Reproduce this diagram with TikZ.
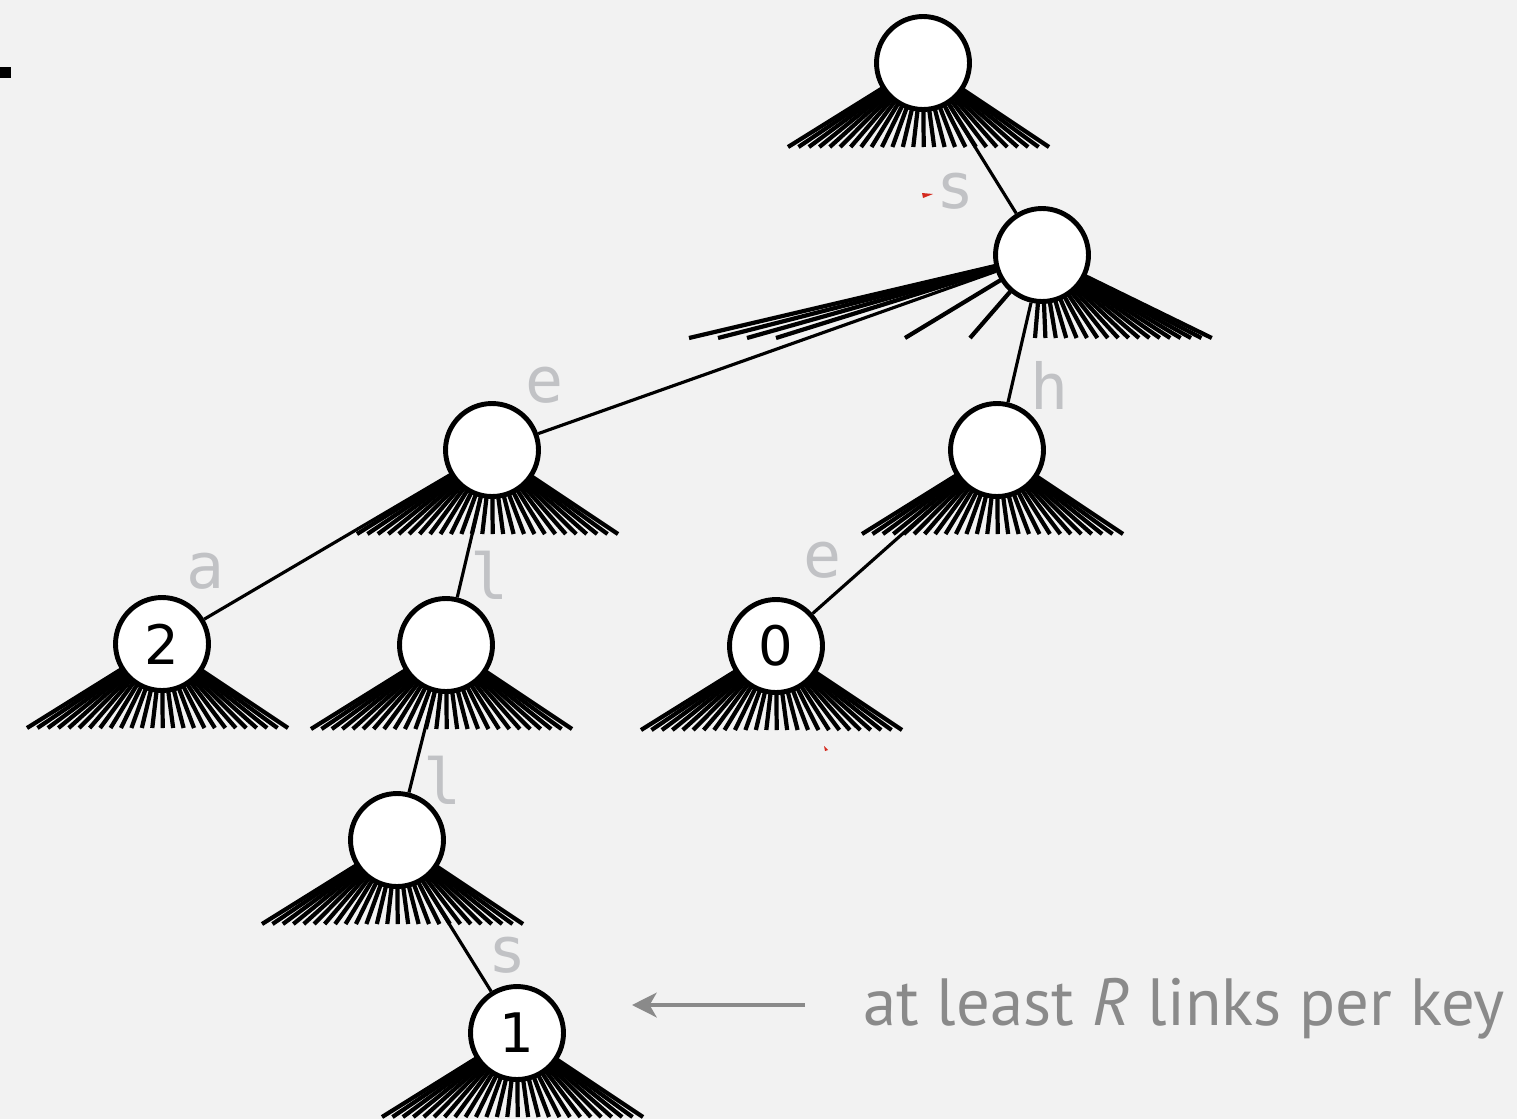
\documentclass[tikz,border=0pt]{standalone}
\usepackage{fontspec}
\setmainfont{DejaVu Sans}
\newfontfamily\labelfont{DejaVu Sans Mono}
\newfontfamily\notefont{PT Sans}
\usetikzlibrary{arrows.meta}

\definecolor{paper}{HTML}{F2F2F2}
\definecolor{labgray}{HTML}{C1C2C5}
\definecolor{notegray}{HTML}{8A8A8A}
\definecolor{markred}{HTML}{D42A1E}

\pgfdeclarelayer{back}
\pgfdeclarelayer{links}
\pgfsetlayers{back,links,main}

\tikzset{
  trienode/.style={circle, draw=black, fill=white, line width=2.8pt,
    minimum size=1.86cm, inner sep=0pt, font=\fontsize{31}{31}\selectfont},
  fanline/.style={line width=2.4pt},
  trielink/.style={line width=1.8pt},
  charlab/.style={text=labgray, inner sep=0pt, font=\labelfont\fontsize{36}{36}\selectfont},
  notetext/.style={text=notegray, inner sep=0pt, font=\notefont\fontsize{38}{38}\selectfont},
  notearrow/.style={draw=notegray, line width=2.4pt,
    -{Stealth[length=14pt, width=14pt, inset=4pt]}}
}

% one full fan of R=26 null links below a node
\newcommand{\linkfan}[1]{%
  \foreach \k in {0,...,25}{\draw[fanline] (#1.center) -- ++({-135+10.44*\k},84);}}

\begin{document}
\begin{tikzpicture}[x=0.02cm, y=-0.02cm]

\begin{pgfonlayer}{back}
\fill[paper] (0,0) rectangle (1517,1119);
\end{pgfonlayer}
\useasboundingbox (0,0) rectangle (1517,1119);

\fill[black] (0,67) rectangle (11,78);

% trie nodes
\node[trienode] (nroot) at (923,63) {};
\node[trienode] (ns) at (1042,255) {};
\node[trienode] (ne) at (492,450) {};
\node[trienode] (nh) at (997,450) {};
\node[trienode] (na) at (162,644) {2};
\node[trienode] (nl) at (446,645) {};
\node[trienode] (nhe) at (776,646) {0};
\node[trienode] (nll) at (397,840) {};
\node[trienode] (nlls) at (517,1033) {1};

% character labels
\node[charlab] (ls) at (956,191) {s};
\node[charlab] (le) at (545,385) {e};
\node[charlab] (lh) at (1050,385) {h};
\node[charlab] (la) at (206,571) {a};
\node[charlab] (ll) at (490,575) {l};
\node[charlab] (lhe) at (823,560) {e};
\node[charlab] (lll) at (443,780) {l};
\node[charlab] (llls) at (508,955) {s};

\begin{pgfonlayer}{links}
\linkfan{nroot}
\linkfan{ne}
\linkfan{nh}
\linkfan{na}
\linkfan{nl}
\linkfan{nhe}
\linkfan{nll}
\linkfan{nlls}

% the s node, stretched fan
\foreach \ex in {689,718,747,776,905,970}
  \draw[fanline] (ns.center) -- (\ex,338);
\foreach \k in {0,...,17}
  \draw[fanline] (ns.center) -- ({1035+10.4*\k},338);

\draw[trielink] (nroot) -- (ns);
\draw[trielink] (ns) -- (ne);
\draw[trielink] (ns) -- (nh);
\draw[trielink] (ne) -- (na);
\draw[trielink] (ne) -- (nl);
\draw[trielink] (nh) -- (nhe);
\draw[trielink] (nl) -- (nll);
\draw[trielink] (nll) -- (nlls);
\end{pgfonlayer}

% note on the last node
\coordinate (tail) at (805,1005);
\coordinate (tip) at (632,1005);
\draw[notearrow] (tail) -- (tip);
\node[notetext, anchor=base west] (note) at (863,1025) {at least \textit{R} links per key};

% stray red marks
\fill[markred] (922,193) -- (933,194) -- (923,198) -- cycle;
\fill[markred] (824,746) -- (828,750) -- (825,751) -- cycle;

\end{tikzpicture}
\end{document}
